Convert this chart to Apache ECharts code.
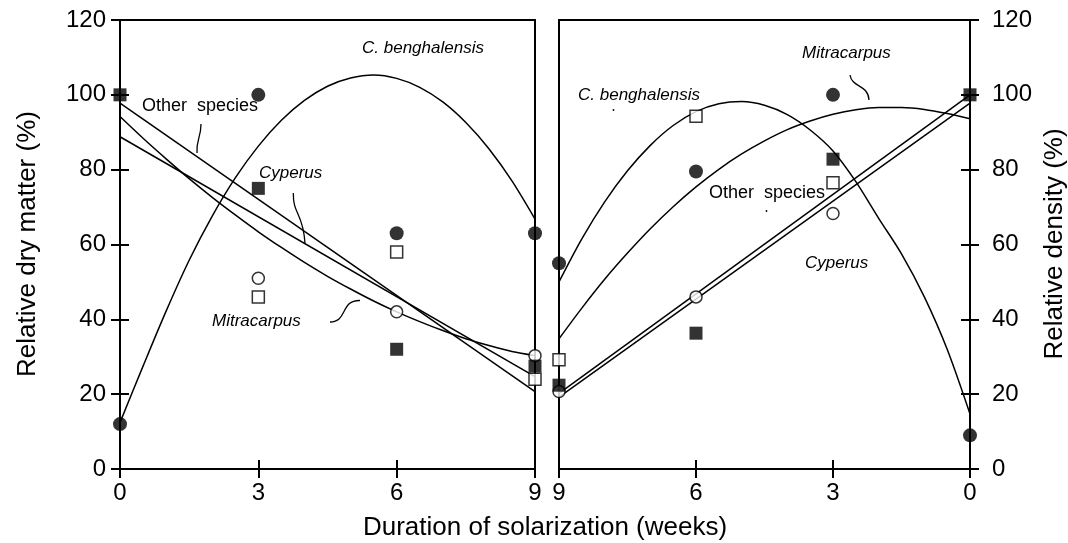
<!DOCTYPE html>
<html>
<head>
<meta charset="utf-8">
<script src="https://cdn.jsdelivr.net/npm/echarts@6/dist/echarts.min.js"></script>
<style>
html,body{margin:0;padding:0;background:#fff;}
#c{width:1068px;height:543px;}
</style>
</head>
<body>
<div id="c"></div>
<script>
// ---- Data ----
// Left panel: relative dry matter (%) vs weeks of solarization
const leftX = [0, 3, 6, 9];
const leftBenghal = [12, 100, 63, 63];          // filled circles
const leftCyperus = [100, 75, 32, 27.5];        // filled squares
const leftMitraX = [3, 6, 9];
const leftMitra = [51, 42, 30.3];               // open circles
const leftOtherX = [3, 6, 9];
const leftOther = [46, 58, 24];                 // open squares

// fitted curves, read every half week
const fitX = [0, 0.5, 1, 1.5, 2, 2.5, 3, 3.5, 4, 4.5, 5, 5.5, 6, 6.5, 7, 7.5, 8, 8.5, 9];
const leftBenghalFit = [12.4, 27.5, 42.2, 55.8, 67.6, 77.8, 86.3, 93.2, 98.5, 102.3, 104.5, 105.3, 104.4, 102.0, 98.1, 92.6, 85.6, 77.0, 66.8];
const leftMitraFit = [94.2, 88.4, 82.9, 77.6, 72.6, 67.9, 63.4, 59.2, 55.2, 51.5, 48.1, 44.9, 42.0, 39.4, 37.0, 34.8, 33.0, 31.4, 30.3];
const lineEndsX = [0, 9];
const leftCyperusFit = [97.8, 20.7];
const leftOtherFit = [88.8, 24.7];

// Right panel: relative density (%), x axis runs 9 -> 0
const rightX = [9, 6, 3, 0];
const rightBenghal = [55, 79.5, 100, 9];        // filled circles
const rightCyperus = [22.4, 36.3, 82.8, 100];   // filled squares
const rightMitraX = [9, 6, 3];
const rightMitra = [20.7, 46, 68.3];            // open circles
const rightOtherX = [9, 6, 3];
const rightOther = [29.2, 94.3, 76.5];          // open squares

const rightFitX = [9, 8.5, 8, 7.5, 7, 6.5, 6, 5.5, 5, 4.5, 4, 3.5, 3, 2.5, 2, 1.5, 1, 0.5, 0];
const rightBenghalFit = [50.0, 61.5, 71.4, 79.7, 86.5, 91.8, 95.5, 97.6, 98.2, 97.2, 94.7, 90.6, 85.0, 76.8, 67.0, 57.5, 46.0, 32.0, 14.7];
const rightMitraFit = [34.8, 43.0, 50.7, 57.7, 64.2, 70.1, 75.4, 80.1, 84.2, 87.7, 90.7, 93.0, 94.8, 96.0, 96.6, 96.6, 96.1, 95.0, 93.6];
const rightLineX = [9, 0];
const rightCyperusFit = [20.2, 100];
const rightOtherFit = [19.2, 97.8];

// ---- helpers ----
const FONT = '"Liberation Sans", Arial, sans-serif';
const zip = (xs, ys) => xs.map((x, i) => [x, ys[i]]);
const AX = {color: '#000', width: 2};

function xAx(grid, opts) {
  return Object.assign({
    type: 'value', gridIndex: grid, min: 0, max: 9, interval: 3,
    position: 'bottom', splitLine: {show: false},
    axisLine: {show: true, onZero: false, lineStyle: AX},
    axisTick: {show: false}, axisLabel: {show: false}
  }, opts);
}
function yAx(grid, opts) {
  return Object.assign({
    type: 'value', gridIndex: grid, min: 0, max: 120, interval: 20,
    splitLine: {show: false},
    axisLine: {show: true, onZero: false, lineStyle: AX},
    axisTick: {show: false}, axisLabel: {show: false}
  }, opts);
}
const tickOut = {show: true, inside: false, length: 9, lineStyle: AX};
const tickIn = {show: true, inside: true, length: 9, lineStyle: AX};
const labelStyle = {show: true, color: '#000', fontSize: 24, fontFamily: FONT};

function curve(xi, yi, data, smooth) {
  return {type: 'line', xAxisIndex: xi, yAxisIndex: yi, data: data,
    showSymbol: false, symbol: 'none', smooth: smooth, silent: true,
    lineStyle: {color: '#000', width: 1.5}, z: 2};
}
function pts(xi, yi, data, kind) {
  const base = {type: 'scatter', xAxisIndex: xi, yAxisIndex: yi, data: data, silent: true, z: 3};
  if (kind === 'fc') return Object.assign(base, {symbol: 'circle', symbolSize: 14, itemStyle: {color: '#000'}});
  if (kind === 'fs') return Object.assign(base, {symbol: 'rect', symbolSize: 13, itemStyle: {color: '#000'}});
  if (kind === 'oc') return Object.assign(base, {symbol: 'circle', symbolSize: 12, itemStyle: {color: '#fff', borderColor: '#000', borderWidth: 1.5}});
  return Object.assign(base, {symbol: 'rect', symbolSize: 12, itemStyle: {color: '#fff', borderColor: '#000', borderWidth: 1.5}});
}

const chart = echarts.init(document.getElementById('c'), null, {renderer: 'canvas'});

function txt(text, x, y, size, italic) {
  return {
    type: 'text', x: x, y: y, z: 10,
    style: {text: text, fill: '#000', fontSize: size, fontFamily: FONT,
      fontStyle: italic ? 'italic' : 'normal',
      textAlign: 'left', textVerticalAlign: 'middle', align: 'left', verticalAlign: 'middle'}
  };
}
function ptr(p) {
  return {type: 'bezierCurve', z: 10, silent: true,
    shape: {x1: p[0], y1: p[1], cpx1: p[2], cpy1: p[3], cpx2: p[4], cpy2: p[5], x2: p[6], y2: p[7]},
    style: {stroke: '#000', lineWidth: 1.3, fill: null}};
}
function title(text, x, y, rot) {
  return {type: 'text', x: x, y: y, rotation: rot, z: 10,
    style: {text: text, fill: '#000', fontSize: 26, fontFamily: FONT,
      textAlign: 'center', textVerticalAlign: 'middle', align: 'center', verticalAlign: 'middle'}};
}

const option = {
  animation: false,
  backgroundColor: '#fff',
  grid: [
    {left: 120, top: 20, width: 415, height: 449},
    {left: 559, top: 20, width: 411, height: 449}
  ],
  xAxis: [
    xAx(0, {axisTick: tickOut, axisLabel: Object.assign({}, labelStyle, {margin: 12})}),
    xAx(0, {axisTick: tickIn, axisLine: {show: false}}),
    xAx(0, {position: 'top'}),
    xAx(1, {inverse: true, axisTick: tickOut, axisLabel: Object.assign({}, labelStyle, {margin: 12})}),
    xAx(1, {inverse: true, axisTick: tickIn, axisLine: {show: false}}),
    xAx(1, {inverse: true, position: 'top'})
  ],
  yAxis: [
    yAx(0, {position: 'left', axisTick: tickOut, axisLabel: Object.assign({}, labelStyle, {margin: 14})}),
    yAx(0, {position: 'left', axisTick: tickIn, axisLine: {show: false}}),
    yAx(0, {position: 'right'}),
    yAx(1, {position: 'right', axisTick: tickOut, axisLabel: Object.assign({}, labelStyle, {margin: 22})}),
    yAx(1, {position: 'right', axisTick: tickIn, axisLine: {show: false}}),
    yAx(1, {position: 'left'})
  ],
  series: [
    // left panel curves
    curve(0, 0, zip(fitX, leftBenghalFit), 0.3),
    curve(0, 0, zip(fitX, leftMitraFit), 0.3),
    curve(0, 0, zip(lineEndsX, leftCyperusFit), false),
    curve(0, 0, zip(lineEndsX, leftOtherFit), false),
    // left panel points
    pts(0, 0, zip(leftMitraX, leftMitra), 'oc'),
    pts(0, 0, zip(leftX, leftCyperus), 'fs'),
    pts(0, 0, zip(leftOtherX, leftOther), 'os'),
    pts(0, 0, zip(leftX, leftBenghal), 'fc'),
    // right panel curves
    curve(3, 3, zip(rightFitX, rightBenghalFit), 0.3),
    curve(3, 3, zip(rightFitX, rightMitraFit), 0.3),
    curve(3, 3, zip(rightLineX, rightCyperusFit), false),
    curve(3, 3, zip(rightLineX, rightOtherFit), false),
    // right panel points
    pts(3, 3, zip(rightMitraX, rightMitra), 'oc'),
    pts(3, 3, zip(rightX, rightCyperus), 'fs'),
    pts(3, 3, zip(rightOtherX, rightOther), 'os'),
    pts(3, 3, zip(rightX, rightBenghal), 'fc')
  ],
  graphic: [
    title('Duration of solarization (weeks)', 545, 528, 0),
    title('Relative dry matter (%)', 28, 244, Math.PI / 2),
    title('Relative density (%)', 1055, 244, Math.PI / 2),
    // left panel annotations
    txt('C. benghalensis', 362, 48, 17, true),
    txt('Other  species', 142, 106, 18, false),
    txt('Cyperus', 259, 173, 17, true),
    txt('Mitracarpus', 212, 321, 17, true),
    ptr([201, 124, 201, 138, 196, 140, 197, 153]),
    ptr([293.3, 193, 293, 215, 303, 212, 305, 243]),
    ptr([330, 322, 348, 322, 340, 300, 360, 300.5]),
    // right panel annotations
    txt('C. benghalensis', 578, 95, 17, true),
    txt('Mitracarpus', 802, 53, 17, true),
    txt('Other  species', 709, 193, 18, false),
    txt('Cyperus', 805, 263, 17, true),
    ptr([850, 75, 852, 88, 868, 84, 869, 100]),
    {type: 'circle', z: 10, shape: {cx: 613.5, cy: 110, r: 0.9}, style: {fill: '#000'}},
    {type: 'circle', z: 10, shape: {cx: 766.5, cy: 211, r: 0.9}, style: {fill: '#000'}}
  ]
};
chart.setOption(option);
</script>
</body>
</html>
